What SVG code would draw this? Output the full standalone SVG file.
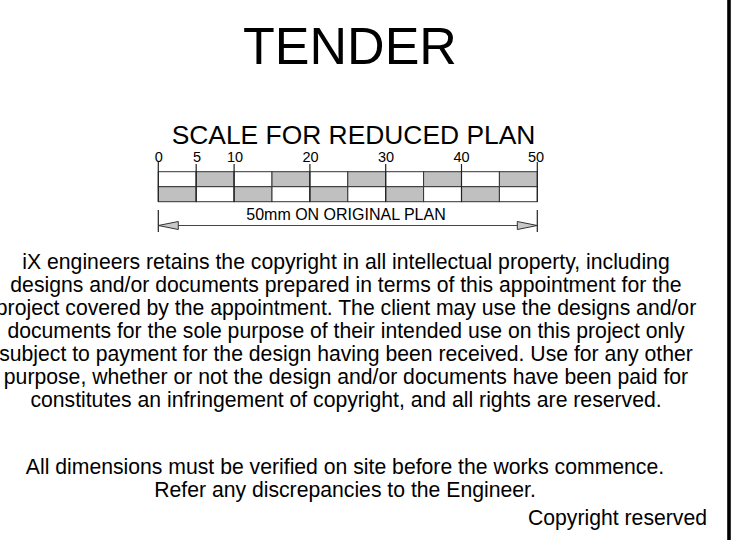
<svg xmlns="http://www.w3.org/2000/svg" width="750" height="540" viewBox="0 0 750 540">
  <defs>
    <style>
      text { font-family: "Liberation Sans", Arial, sans-serif; fill: #000; }
      .title { font-size: 52px; text-anchor: middle; }
      .scale-title { font-size: 26.4px; text-anchor: middle; }
      .num { font-size: 14.5px; text-anchor: middle; }
      .dim-text { font-size: 16px; text-anchor: middle; }
      .para { font-size: 21.2px; text-anchor: middle; }
      .note { font-size: 21.2px; text-anchor: middle; }
      .white { fill: #ffffff; stroke: #333; stroke-width: 1; }
      .grey { fill: #c0c0c0; stroke: #333; stroke-width: 1; }
      .tick { stroke: #222; stroke-width: 1.2; fill: none; }
      .dimline { stroke: #444; stroke-width: 1; fill: none; }
      .arrow { fill: #c8c8c8; stroke: #333; stroke-width: 1; }
    </style>
  </defs>
  <rect x="0" y="0" width="750" height="540" fill="#ffffff"/>

  <g id="title">
    <text class="title" x="350" y="64">TENDER</text>
  </g>

  <g id="scale-bar">
    <text class="scale-title" x="353.5" y="144">SCALE FOR REDUCED PLAN</text>
    <!-- top row -->
    <rect class="white" x="158.3" y="171.7" width="37.9" height="15"/>
    <rect class="grey" x="196.2" y="171.7" width="37.9" height="15"/>
    <rect class="white" x="234.1" y="171.7" width="37.9" height="15"/>
    <rect class="grey" x="272.0" y="171.7" width="37.9" height="15"/>
    <rect class="white" x="309.9" y="171.7" width="37.9" height="15"/>
    <rect class="grey" x="347.8" y="171.7" width="37.9" height="15"/>
    <rect class="white" x="385.7" y="171.7" width="37.9" height="15"/>
    <rect class="grey" x="423.6" y="171.7" width="37.9" height="15"/>
    <rect class="white" x="461.5" y="171.7" width="37.9" height="15"/>
    <rect class="grey" x="499.4" y="171.7" width="37.9" height="15"/>
    <!-- bottom row -->
    <rect class="grey" x="158.3" y="186.7" width="37.9" height="15"/>
    <rect class="white" x="196.2" y="186.7" width="37.9" height="15"/>
    <rect class="grey" x="234.1" y="186.7" width="37.9" height="15"/>
    <rect class="white" x="272.0" y="186.7" width="37.9" height="15"/>
    <rect class="grey" x="309.9" y="186.7" width="37.9" height="15"/>
    <rect class="white" x="347.8" y="186.7" width="37.9" height="15"/>
    <rect class="grey" x="385.7" y="186.7" width="37.9" height="15"/>
    <rect class="white" x="423.6" y="186.7" width="37.9" height="15"/>
    <rect class="grey" x="461.5" y="186.7" width="37.9" height="15"/>
    <rect class="white" x="499.4" y="186.7" width="37.9" height="15"/>
    <!-- ticks -->
    <line class="tick" x1="158.3" y1="162" x2="158.3" y2="201.7"/>
    <line class="tick" x1="196.2" y1="164" x2="196.2" y2="201.7"/>
    <line class="tick" x1="234.1" y1="164" x2="234.1" y2="201.7"/>
    <line class="tick" x1="309.9" y1="164" x2="309.9" y2="201.7"/>
    <line class="tick" x1="385.7" y1="164" x2="385.7" y2="201.7"/>
    <line class="tick" x1="461.5" y1="164" x2="461.5" y2="201.7"/>
    <line class="tick" x1="537.3" y1="162" x2="537.3" y2="201.7"/>
    <!-- numbers -->
    <text class="num" x="158.8" y="161.5">0</text>
    <text class="num" x="197" y="161.5">5</text>
    <text class="num" x="235" y="161.5">10</text>
    <text class="num" x="310.5" y="161.5">20</text>
    <text class="num" x="386" y="161.5">30</text>
    <text class="num" x="461.5" y="161.5">40</text>
    <text class="num" x="536" y="161.5">50</text>
  </g>

  <g id="dimension">
    <line class="tick" x1="158.3" y1="210" x2="158.3" y2="232"/>
    <line class="tick" x1="537.3" y1="210" x2="537.3" y2="232"/>
    <line class="dimline" x1="158.3" y1="225.5" x2="537.3" y2="225.5"/>
    <polygon class="arrow" points="158.3,225.5 178.3,221.5 178.3,229.5"/>
    <polygon class="arrow" points="537.3,225.5 517.3,221.5 517.3,229.5"/>
    <text class="dim-text" x="346" y="220">50mm ON ORIGINAL PLAN</text>
  </g>

  <g id="copyright-text">
    <text class="para" x="346" y="269">iX engineers retains the copyright in all intellectual property, including</text>
    <text class="para" x="346" y="292">designs and/or documents prepared in terms of this appointment for the</text>
    <text class="para" x="346" y="315">project covered by the appointment. The client may use the designs and/or</text>
    <text class="para" x="346" y="338">documents for the sole purpose of their intended use on this project only</text>
    <text class="para" x="346" y="361">subject to payment for the design having been received. Use for any other</text>
    <text class="para" x="346" y="384">purpose, whether or not the design and/or documents have been paid for</text>
    <text class="para" x="346" y="407">constitutes an infringement of copyright, and all rights are reserved.</text>
  </g>

  <g id="notes">
    <text class="note" x="345" y="474">All dimensions must be verified on site before the works commence.</text>
    <text class="note" x="345" y="497.3">Refer any discrepancies to the Engineer.</text>
    <text class="note" x="707" y="525" style="text-anchor: end;">Copyright reserved</text>
  </g>

  <g id="border">
    <line x1="729" y1="0" x2="729" y2="540" stroke="#000" stroke-width="3.6"/>
  </g>
</svg>
